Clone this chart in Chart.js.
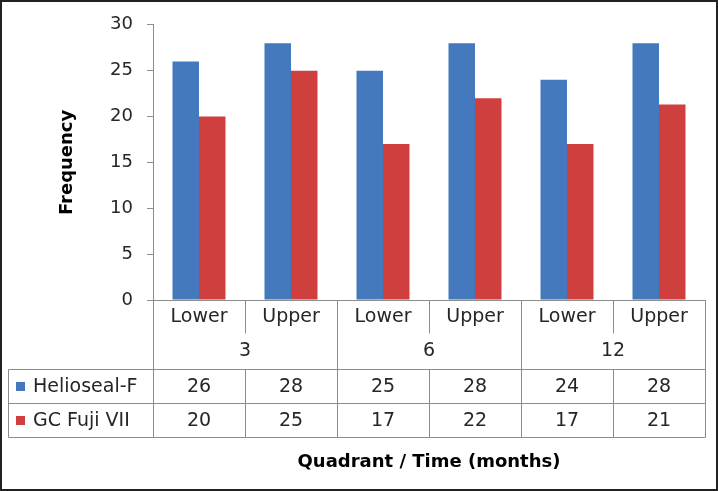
<!DOCTYPE html>
<html>
<head>
<meta charset="utf-8">
<script src="https://cdn.jsdelivr.net/npm/chart.js@4"></script>
<style>
    html, body { margin: 0; padding: 0; background: #fff; }
    #wrap { width: 718px; height: 491px; }
</style>
</head>
<body>
<div id="wrap"><canvas id="frequencyChart" width="718" height="491"></canvas></div>
<script>
const quadrants = ["Lower", "Upper", "Lower", "Upper", "Lower", "Upper"];
const months = ["3", "6", "12"];
const heliosealValues = [26, 28, 25, 28, 24, 28];
const fujiValues = [20, 25, 17, 22, 17, 21.3];
const yTicks = [0, 5, 10, 15, 20, 25, 30];

const seriesNames = ["Helioseal-F", "GC Fuji VII"];
const seriesColors = ["#4579bd", "#cf3f3e"];
const lineColor = "#8c8c8c";
const textColor = "#262626";
const fontFamily = "'DejaVu Sans', sans-serif";

// draws the data table under the plot, lined up with the x scale
const dataTablePlugin = {
    id: "dataTable",
    beforeDraw(chart) {
        const ctx = chart.ctx;
        ctx.save();
        ctx.fillStyle = "#fff";
        ctx.fillRect(0, 0, chart.width, chart.height);
        ctx.restore();
    },
    afterDraw(chart) {
        const ctx = chart.ctx;
        const x = chart.scales.x;
        const area = chart.chartArea;
        const colWidth = (area.right - area.left) / quadrants.length;
        const edges = quadrants.map((q, i) => x.getPixelForValue(i) - colWidth / 2);
        edges.push(area.right);

        const top = area.bottom;
        const row1 = top + 33;
        const row2 = top + 69;
        const row3 = top + 103;
        const row4 = top + 137;
        const tableLeft = 8;

        ctx.save();
        ctx.strokeStyle = lineColor;
        ctx.lineWidth = 1;

        const line = (x1, y1, x2, y2) => {
            ctx.beginPath();
            ctx.moveTo(Math.round(x1) + 0.5, Math.round(y1) + 0.5);
            ctx.lineTo(Math.round(x2) + 0.5, Math.round(y2) + 0.5);
            ctx.stroke();
        };

        line(tableLeft, row2, area.right, row2);
        line(tableLeft, row3, area.right, row3);
        line(tableLeft, row4, area.right, row4);
        line(tableLeft, row2, tableLeft, row4);

        edges.forEach((ex, i) => {
            if (i === 0 || i === edges.length - 1 || i % 2 === 0) {
                line(ex, top, ex, row4);
            } else {
                line(ex, top, ex, row1);
                line(ex, row2, ex, row4);
            }
        });

        ctx.fillStyle = textColor;
        ctx.font = "19px " + fontFamily;
        ctx.textAlign = "center";
        ctx.textBaseline = "middle";

        quadrants.forEach((q, i) => {
            ctx.fillText(q, x.getPixelForValue(i), (top + row1) / 2 + 1);
        });

        months.forEach((m, i) => {
            ctx.fillText(m, (edges[i * 2] + edges[i * 2 + 2]) / 2, (row1 + row2) / 2);
        });

        const rows = [heliosealValues, fujiValues];
        const rowMids = [(row2 + row3) / 2 + 1, (row3 + row4) / 2 + 1];

        rows.forEach((values, r) => {
            ctx.textAlign = "center";
            values.forEach((v, i) => {
                ctx.fillText(String(Math.round(v)), x.getPixelForValue(i), rowMids[r]);
            });

            ctx.fillStyle = seriesColors[r];
            ctx.fillRect(16, rowMids[r] - 5, 9, 9);
            ctx.fillStyle = textColor;
            ctx.textAlign = "left";
            ctx.fillText(seriesNames[r], 33, rowMids[r]);
        });

        ctx.strokeStyle = "#222";
        ctx.lineWidth = 2;
        ctx.strokeRect(1, 1, chart.width - 2, chart.height - 2);
        ctx.restore();
    }
};

const ctx = document.getElementById("frequencyChart").getContext("2d");

new Chart(ctx, {
    type: "bar",
    data: {
        labels: quadrants,
        datasets: [
            {
                label: seriesNames[0],
                data: heliosealValues,
                backgroundColor: seriesColors[0]
            },
            {
                label: seriesNames[1],
                data: fujiValues,
                backgroundColor: seriesColors[1]
            }
        ]
    },
    options: {
        responsive: false,
        animation: false,
        layout: {
            padding: { left: 53, top: 20, right: 13, bottom: 0 }
        },
        datasets: {
            bar: {
                categoryPercentage: 0.576,
                barPercentage: 1
            }
        },
        plugins: {
            legend: { display: false },
            tooltip: { enabled: false }
        },
        scales: {
            x: {
                ticks: { display: false },
                grid: { display: false },
                border: { display: true, color: lineColor },
                title: {
                    display: true,
                    text: "Quadrant / Time (months)",
                    color: "#000",
                    font: { family: fontFamily, size: 18, weight: "bold" },
                    padding: { top: 0, bottom: 18 }
                },
                afterFit(scale) {
                    scale.height = 191;
                }
            },
            y: {
                min: 0,
                max: 30,
                afterBuildTicks(scale) {
                    scale.ticks = yTicks.map(v => ({ value: v }));
                },
                ticks: {
                    padding: 14,
                    color: textColor,
                    font: { family: fontFamily, size: 18 }
                },
                grid: {
                    drawOnChartArea: false,
                    drawTicks: true,
                    tickLength: 6,
                    color: lineColor
                },
                border: { display: true, color: lineColor },
                title: {
                    display: true,
                    text: "Frequency",
                    color: "#000",
                    font: { family: fontFamily, size: 18, weight: "bold" },
                    padding: { top: 4, bottom: 0 }
                },
                afterFit(scale) {
                    scale.width = 100;
                }
            }
        }
    },
    plugins: [dataTablePlugin]
});
</script>
</body>
</html>
